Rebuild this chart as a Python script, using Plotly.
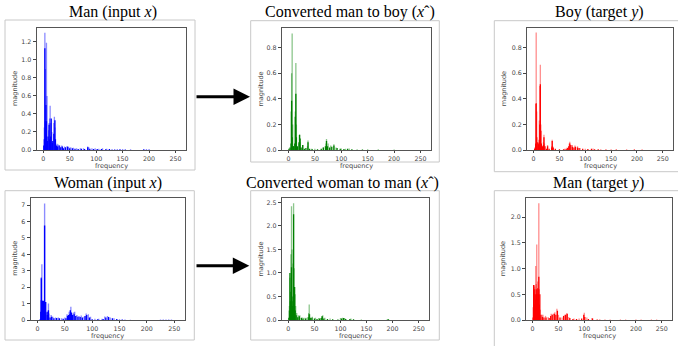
import plotly.graph_objects as go

# ---------------- data ----------------
titles = ["Man (input <i>x</i>)", "Converted man to boy (<i>x</i>ˆ)", "Boy (target <i>y</i>)",
          "Woman (input <i>x</i>)", "Converted woman to man (<i>x</i>ˆ)", "Man (target <i>y</i>)"]

man_in_light_f = [2,3,4,6,7,10,11,12,13,14,16,20,21,22,26,28,31,35,40,45,48,52,57,63,70,76,84,86,92,98,105,112,120,130,140,150,165,195,200]
man_in_light_m = [0.25,1.30,0.9,1.19,0.6,0.22,0.3,0.35,0.49,0.3,0.2,0.3,0.37,0.25,0.07,0.06,0.05,0.05,0.04,0.045,0.035,0.03,0.025,0.02,0.02,0.02,0.04,0.03,0.02,0.02,0.015,0.02,0.015,0.012,0.01,0.012,0.008,0.012,0.01]
man_in_dark_f = [1,2,3,4,5,6,8,9,11,12,14,15,17,18,20,22,23,25,27,30,33,36,38,42,46,50,55,60,66,72,78,84,88,95,102,110,118,125,135,145,155,190]
man_in_dark_m = [0.05,0.12,1.13,0.32,0.5,0.32,0.1,0.15,0.28,0.12,0.15,0.35,0.08,0.1,0.18,0.33,0.12,0.05,0.04,0.05,0.03,0.04,0.02,0.03,0.035,0.02,0.02,0.015,0.012,0.015,0.012,0.03,0.015,0.01,0.012,0.01,0.008,0.01,0.006,0.008,0.005,0.008]

m2b_light_f = [5,6,7,8,13,14,15,20,21,22,27,36,37,44,50,66,71,72,75,80,86,90,100,108,115,130,150,170,200]
m2b_light_m = [0.3,0.6,0.91,0.2,0.3,0.68,0.2,0.05,0.12,0.06,0.04,0.03,0.075,0.01,0.01,0.02,0.05,0.085,0.05,0.035,0.045,0.02,0.012,0.01,0.012,0.006,0.005,0.005,0.004]
m2b_dark_f = [1,3,5,6,7,9,10,12,13,14,15,17,20,21,22,24,27,30,33,37,40,45,55,62,66,70,72,74,78,82,86,92,98,105,112,120,140]
m2b_dark_m = [0.01,0.02,0.05,0.385,0.1,0.03,0.03,0.05,0.26,0.44,0.1,0.03,0.06,0.12,0.09,0.02,0.04,0.01,0.015,0.06,0.01,0.005,0.005,0.01,0.02,0.03,0.07,0.03,0.02,0.025,0.035,0.015,0.01,0.008,0.01,0.005,0.003]

boy_light_f = [4,5,6,11,12,13,14,19,20,21,27,35,36,37,60,65,69,70,75,80,85,90,100,115,130,150,180,210]
boy_light_m = [0.36,0.917,0.3,0.23,0.5,0.665,0.2,0.06,0.12,0.05,0.04,0.03,0.08,0.03,0.01,0.02,0.05,0.065,0.04,0.035,0.03,0.015,0.01,0.012,0.006,0.005,0.005,0.005]
boy_dark_f = [2,3,4,5,6,8,9,10,11,12,13,14,15,17,19,20,22,25,27,30,35,36,38,42,50,58,63,66,68,70,72,75,78,81,85,88,95,105,112,118,125,140,160,195]
boy_dark_m = [0.01,0.02,0.05,0.365,0.1,0.06,0.05,0.04,0.08,0.2,0.513,0.15,0.05,0.03,0.04,0.1,0.03,0.01,0.03,0.01,0.02,0.07,0.02,0.01,0.005,0.005,0.01,0.015,0.03,0.05,0.04,0.025,0.02,0.025,0.02,0.015,0.01,0.008,0.01,0.006,0.005,0.004,0.004,0.003]

woman_in_light_f = [6,7,8,9,12,13,14,16,17,20,21,25,28,33,38,44,50,54,56,58,61,63,66,68,72,76,80,85,89,93,97,105,112,118,123,128,133,140,150,160,170,225,235,245]
woman_in_light_m = [1.2,2.6,3.4,1.2,1.2,7.1,1.1,0.5,0.45,1.0,0.4,0.3,0.2,0.15,0.15,0.1,0.15,0.35,0.3,0.5,0.8,0.4,0.45,0.5,0.3,0.25,0.28,0.2,0.4,0.35,0.2,0.07,0.07,0.08,0.22,0.25,0.15,0.1,0.05,0.03,0.02,0.03,0.03,0.03]
woman_in_dark_f = [5,6,7,9,10,11,12,13,15,18,19,20,23,26,30,35,40,47,52,55,57,59,60,62,64,67,70,74,78,82,87,90,95,100,110,120,125,130,137,145,155,230,240]
woman_in_dark_m = [0.05,0.5,2.55,1.15,0.6,1.15,0.5,5.75,1.1,0.3,0.5,0.6,0.15,0.2,0.1,0.12,0.1,0.08,0.1,0.25,0.3,0.35,0.6,0.45,0.3,0.35,0.25,0.2,0.18,0.15,0.25,0.3,0.15,0.05,0.05,0.06,0.15,0.18,0.1,0.06,0.03,0.02,0.02]

w2m_light_f = [2,3,5,6,7,9,10,11,13,14,16,19,22,26,30,34,39,40,41,46,52,58,64,66,70,80,100,104,108,120,190]
w2m_light_m = [0.3,0.9,1.4,2.42,1.5,1.2,2.48,1.1,0.55,0.3,0.15,0.1,0.1,0.06,0.05,0.05,0.15,0.33,0.12,0.07,0.05,0.04,0.08,0.1,0.05,0.03,0.04,0.05,0.04,0.03,0.02]
w2m_dark_f = [1,2,3,4,5,6,7,8,9,10,11,12,13,15,18,21,25,28,33,38,40,42,45,50,55,60,63,65,68,75,85,95,102,106,110,118,125,140,192]
w2m_dark_m = [0.05,0.2,1.0,0.4,0.6,1.12,0.4,0.3,0.5,2.25,0.4,0.7,0.2,0.1,0.06,0.08,0.04,0.03,0.03,0.06,0.12,0.05,0.05,0.03,0.02,0.03,0.04,0.08,0.03,0.02,0.015,0.01,0.03,0.04,0.02,0.02,0.015,0.005,0.015]

man_t_light_f = [1,2,3,4,6,7,8,9,10,11,12,13,15,18,20,25,30,36,40,43,47,50,57,62,66,70,80,90,100,105,115,130,150,180,210,240]
man_t_light_m = [0.25,0.3,0.68,0.65,1.05,0.7,1.47,0.5,0.75,0.6,2.27,0.6,0.2,0.1,0.1,0.08,0.06,0.12,0.12,0.15,0.22,0.1,0.05,0.1,0.13,0.06,0.03,0.03,0.14,0.05,0.04,0.015,0.01,0.01,0.01,0.01]
man_t_dark_f = [1,2,3,4,5,6,7,8,9,10,11,12,13,14,16,19,22,26,32,35,38,42,45,48,53,60,64,67,72,78,85,95,99,101,108,116,125,140,170,200,230]
man_t_dark_m = [0.05,0.68,0.6,0.3,0.5,0.4,0.6,0.5,0.4,0.62,0.5,0.84,0.3,0.5,0.1,0.06,0.05,0.05,0.04,0.08,0.1,0.12,0.1,0.18,0.05,0.08,0.1,0.12,0.04,0.02,0.02,0.03,0.1,0.06,0.02,0.03,0.01,0.005,0.005,0.005,0.005]

x_ticks = [0, 50, 100, 150, 200, 250]
y_ticks = [[0, 0.2, 0.4, 0.6, 0.8, 1.0, 1.2], [0, 0.2, 0.4, 0.6, 0.8], [0, 0.2, 0.4, 0.6, 0.8],
           [0, 1, 2, 3, 4, 5, 6, 7], [0, 0.5, 1.0, 1.5, 2.0, 2.5], [0, 0.5, 1.0, 1.5, 2.0]]
y_fmt = [".1f", ".1f", ".1f", "d", ".1f", ".1f"]
y_top = [1.354, 0.955, 0.955, 7.45, 2.6, 2.38]

series = [
    (man_in_light_f, man_in_light_m, man_in_dark_f, man_in_dark_m, "0,0,255"),
    (m2b_light_f, m2b_light_m, m2b_dark_f, m2b_dark_m, "0,128,0"),
    (boy_light_f, boy_light_m, boy_dark_f, boy_dark_m, "255,0,0"),
    (woman_in_light_f, woman_in_light_m, woman_in_dark_f, woman_in_dark_m, "0,0,255"),
    (w2m_light_f, w2m_light_m, w2m_dark_f, w2m_dark_m, "0,128,0"),
    (man_t_light_f, man_t_light_m, man_t_dark_f, man_t_dark_m, "255,0,0"),
]

# ---------------- layout geometry (pixels) ----------------
W, H = 678, 346
axes_px = [(36.5, 186, 28, 150), (281.7, 431, 27.7, 150), (527, 673, 27.7, 150),
           (30.5, 185, 197.7, 320), (281.7, 429, 197.7, 320), (526, 672, 197.7, 320)]
frames_px = [(5, 195, 20, 170), (250.7, 439.3, 20.7, 162), (494.3, 690, 20.7, 171.7),
             (5, 194.3, 190.7, 340), (250.7, 439.3, 190.7, 340), (494.3, 690, 190.7, 352)]
title_px = [(112.5, 12), (350, 12), (599, 12), (108, 183), (342.5, 183), (598.5, 183)]
ylabel_off = [21.5, 21, 22.7, 15.5, 21, 22.7]

def px(x):
    return x / W

def py(y):
    return 1 - y / H

fig = go.Figure()
layout = dict(template="none", width=W, height=H, margin=dict(l=0, r=0, t=0, b=0, pad=0),
              paper_bgcolor="white", plot_bgcolor="white", showlegend=False,
              barmode="overlay", hovermode=False)
shapes, annotations = [], []
tickfont = dict(family="DejaVu Sans", size=6.3, color="#444")

for i, (lf, lm, df, dm, rgb) in enumerate(series):
    n = "" if i == 0 else str(i + 1)
    xa, ya = "x" + n, "y" + n
    fig.add_trace(go.Bar(x=lf, y=lm, width=2.5, xaxis=xa, yaxis=ya,
                         marker=dict(color=f"rgba({rgb},0.45)", line=dict(width=0))))
    fig.add_trace(go.Bar(x=df, y=dm, width=2.5, xaxis=xa, yaxis=ya,
                         marker=dict(color=f"rgb({rgb})", line=dict(width=0))))
    l, r, t, b = axes_px[i]
    layout["xaxis" + n] = dict(domain=[px(l), px(r)], anchor=ya, range=[-12.8, 269.8],
                               automargin=False,
                               tickvals=x_ticks, ticks="outside", ticklen=2, tickcolor="#444",
                               showline=True, mirror=True, linecolor="#555", linewidth=1,
                               showgrid=False, zeroline=False, tickfont=tickfont)
    layout["yaxis" + n] = dict(domain=[py(b), py(t)], anchor=xa, range=[0, y_top[i]],
                               automargin=False,
                               tickvals=y_ticks[i], tickformat=y_fmt[i], ticks="outside",
                               ticklen=3, tickcolor="#444", showline=True, mirror=True,
                               linecolor="#555", linewidth=1, showgrid=False, zeroline=False,
                               tickfont=tickfont)
    fl, fr, ft, fb = frames_px[i]
    shapes.append(dict(type="rect", xref="paper", yref="paper", x0=px(fl), x1=px(fr),
                       y0=py(fb), y1=py(ft), line=dict(color="#c8c8c8", width=1)))
    tx, ty = title_px[i]
    annotations.append(dict(text=titles[i], x=px(tx), y=py(ty), xref="paper", yref="paper",
                            showarrow=False, xanchor="center", yanchor="middle",
                            font=dict(family="Liberation Serif", size=16, color="black")))
    annotations.append(dict(text="magnitude", x=px(l - ylabel_off[i]), y=py((t + b) / 2),
                            xref="paper", yref="paper", showarrow=False, textangle=-90,
                            xanchor="center", yanchor="middle",
                            font=dict(family="DejaVu Sans", size=6.5, color="#444")))
    annotations.append(dict(text="frequency", x=px((l + r) / 2), y=py(b + 16),
                            xref="paper", yref="paper", showarrow=False,
                            xanchor="center", yanchor="middle",
                            font=dict(family="DejaVu Sans", size=6.6, color="#444")))

# arrows
for (x0, x1, y) in [(195, 250, 96.7), (195, 249.3, 265.7)]:
    annotations.append(dict(text="", x=px(x1), y=py(y), xref="paper", yref="paper",
                            ax=x0 - x1, ay=0, showarrow=True, arrowhead=2, arrowsize=1.1,
                            arrowwidth=3, arrowcolor="black"))

layout["shapes"] = shapes
layout["annotations"] = annotations
fig.update_layout(**layout)
fig.write_html("out.html", config={"displayModeBar": False, "staticPlot": True},
               post_script="document.body.style.margin='0px';document.body.style.overflow='hidden';")
